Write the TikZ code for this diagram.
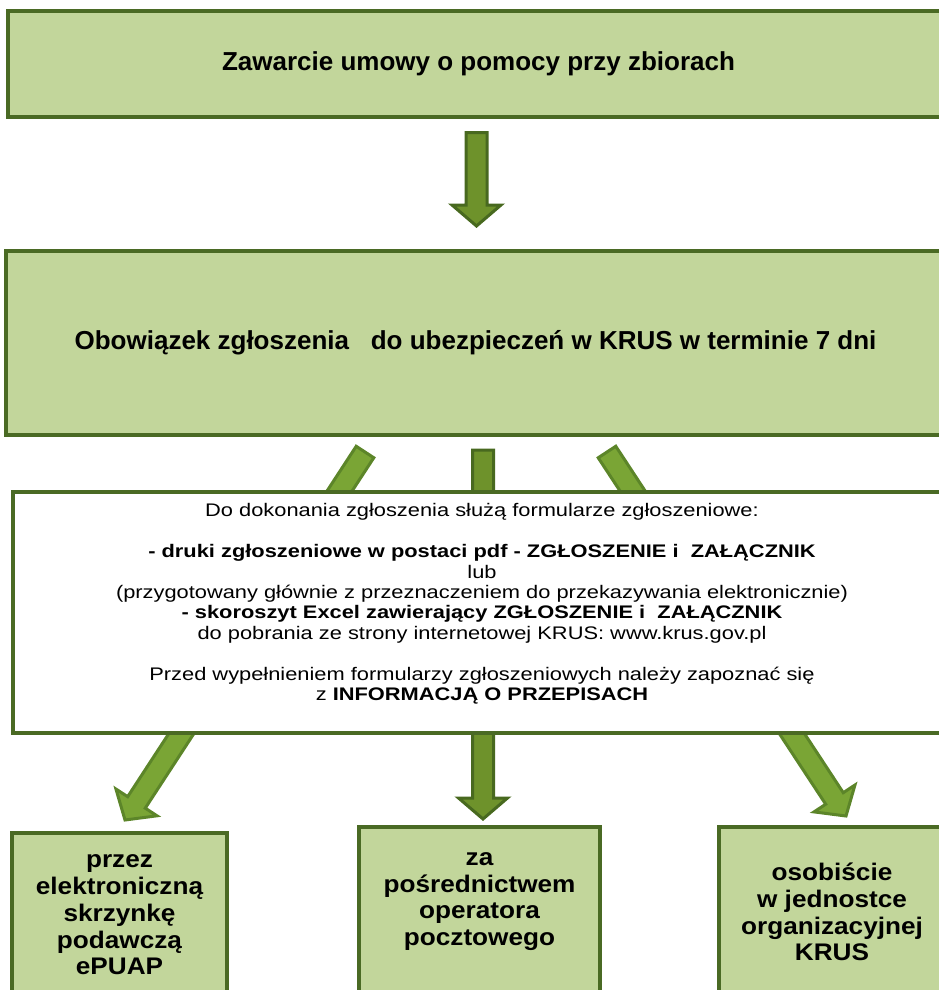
\documentclass[tikz,border=0pt]{standalone}
\usepackage{fontspec}
\setmainfont{Liberation Sans}
\newfontfamily\widesans{Liberation Sans}[FakeStretch=1.2]
\newfontfamily\lowsans{Liberation Sans}[FakeStretch=1.09]
\usetikzlibrary{calc,backgrounds}
\definecolor{boxfill}{HTML}{C2D69B}
\definecolor{boxline}{HTML}{4A6A24}
\definecolor{arrowfill}{HTML}{6E922B}
\definecolor{arrowline}{HTML}{48691F}
\definecolor{slantfill}{HTML}{7AA535}
\definecolor{slantline}{HTML}{5C8529}
\tikzset{
  greenbox/.style={rectangle, draw=boxline, line width=4pt, fill=boxfill,
    align=center, anchor=north west, inner sep=0pt,
    font=\fontsize{26}{30}\selectfont\bfseries},
  lowbox/.style={greenbox, font=\lowsans\fontsize{24}{26.8}\selectfont\bfseries},
  whitebox/.style={greenbox, fill=white,
    font=\widesans\fontsize{18.2}{20.4}\selectfont},
  blockarrow/.style={draw=arrowline, fill=arrowfill, line width=3pt},
  slantarrow/.style={blockarrow, draw=slantline, fill=slantfill}
}
% fat arrow: #2 = start, #3 = tip
\newcommand{\fatarrow}[3][blockarrow]{%
  \coordinate (headbase) at ($(#3)!21pt!(#2)$);
  \draw[#1] ($(#2)!10.5pt!90:(#3)$) -- ($(headbase)!10.5pt!90:(#3)$)
    -- ($(headbase)!24.5pt!90:(#3)$) -- (#3)
    -- ($(headbase)!24.5pt!-90:(#3)$) -- ($(headbase)!10.5pt!-90:(#3)$)
    -- ($(#2)!10.5pt!-90:(#3)$) -- cycle;}

\begin{document}
\begin{tikzpicture}[x=1pt,y=-1pt]
  \useasboundingbox (0,0) rectangle (938,990);

  \node[greenbox, minimum width=942, minimum height=105.5] (contract) at (5.5,9.5)
    {Zawarcie umowy o pomocy przy zbiorach};
  \node[greenbox, minimum width=939, minimum height=183.8] (duty) at (4,248.7)
    {\raisebox{-3pt}{Obowiązek zgłoszenia\ \ \ do ubezpieczeń w KRUS w terminie 7 dni}};
  \node[whitebox, minimum width=938, minimum height=241.5] (forms) at (11,489.5)
    {Do dokonania zgłoszenia służą formularze zgłoszeniowe:\\[20.4pt]
     \textbf{- druki zgłoszeniowe w postaci pdf - ZGŁOSZENIE i\ \ ZAŁĄCZNIK}\\
     lub\\
     (przygotowany głównie z przeznaczeniem do przekazywania elektronicznie)\\
     \textbf{- skoroszyt Excel zawierający ZGŁOSZENIE i\ \ ZAŁĄCZNIK}\\
     do pobrania ze strony internetowej KRUS: www.krus.gov.pl\\[20.4pt]
     Przed wypełnieniem formularzy zgłoszeniowych należy zapoznać się\\
     z \textbf{INFORMACJĄ O PRZEPISACH}\\ \mbox{}};

  \node[lowbox, minimum width=215, minimum height=165] (epuap) at (10,830.5)
    {przez\\elektroniczną\\skrzynkę\\podawczą\\ePUAP};
  \node[lowbox, minimum width=241, minimum height=171] (post) at (357,825)
    {za\\pośrednictwem\\operatora\\pocztowego\\ \mbox{}};
  \node[lowbox, minimum width=226, minimum height=170] (office) at (717,825)
    {osobiście\\w jednostce\\organizacyjnej\\KRUS};

  \begin{pgfonlayer}{background}
    \coordinate (c1) at ($(contract.south)+(-2,13.5)$);
    \coordinate (d1) at ($(duty.north)+(1,-22.7)$);
    \coordinate (d2) at ($(duty.south)+(-110.5,15.5)$);
    \coordinate (d3) at ($(duty.south)+(7.5,13.5)$);
    \coordinate (d4) at ($(duty.south)+(131.5,15.5)$);
    \coordinate (e1) at ($(epuap.north)+(5.5,-10.5)$);
    \coordinate (p1) at ($(post.north)+(3.5,-6)$);
    \coordinate (o1) at ($(office.north)+(14,-9)$);
    \fatarrow{c1}{d1}
    \fatarrow[slantarrow]{d2}{e1}
    \fatarrow{d3}{p1}
    \fatarrow[slantarrow]{d4}{o1}
  \end{pgfonlayer}
\end{tikzpicture}
\end{document}
